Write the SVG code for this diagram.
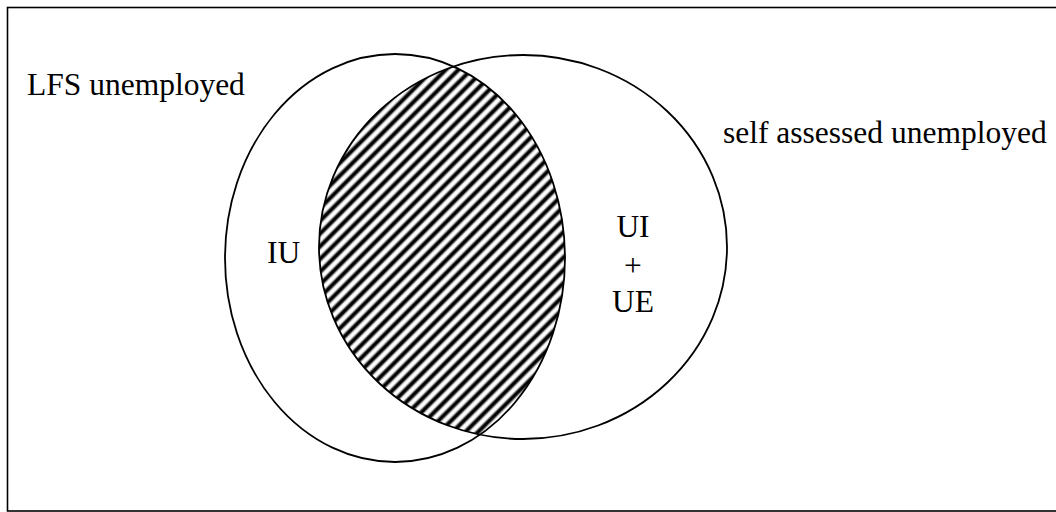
<svg xmlns="http://www.w3.org/2000/svg" width="1056" height="512" viewBox="0 0 1056 512">
<style>
.t{font-family:"Liberation Serif","Times New Roman","DejaVu Serif",serif;font-size:31.5px;fill:#000}
.e{fill:none;stroke:#000;stroke-width:1.8}
</style>
<defs>
<linearGradient id="sg" x1="0" y1="0" x2="1" y2="0">
<stop offset="0" stop-color="#fff"/>
<stop offset="0.14" stop-color="#fff"/>
<stop offset="0.4" stop-color="#000"/>
<stop offset="0.6" stop-color="#000"/>
<stop offset="0.86" stop-color="#fff"/>
<stop offset="1" stop-color="#fff"/>
</linearGradient>
<pattern id="hatch" patternUnits="userSpaceOnUse" width="9" height="20" patternTransform="rotate(45)">
<rect x="0" y="0" width="9" height="20" fill="url(#sg)"/>
</pattern>
<clipPath id="cL"><ellipse cx="395" cy="258" rx="170" ry="204"/></clipPath>
<clipPath id="cR"><ellipse cx="523" cy="247" rx="204" ry="192"/></clipPath>
</defs>
<rect x="0" y="0" width="1056" height="512" fill="#fff"/>
<rect x="7.5" y="7.5" width="1060" height="503.5" fill="none" stroke="#000" stroke-width="1.6"/>
<g id="overlap" clip-path="url(#cL)">
<rect x="300" y="40" width="300" height="440" fill="url(#hatch)" clip-path="url(#cR)"/>
</g>
<g id="lfs">
<ellipse class="e" cx="395" cy="258" rx="170" ry="204"/>
<text class="t" x="27" y="95">LFS unemployed</text>
</g>
<g id="self">
<ellipse class="e" cx="523" cy="247" rx="204" ry="192"/>
<text class="t" x="723" y="143">self assessed unemployed</text>
</g>
<g id="iu"><text class="t" x="267" y="263">IU</text></g>
<g id="uiue">
<text class="t" x="633" y="237" text-anchor="middle">UI</text>
<text class="t" x="633" y="276" text-anchor="middle">+</text>
<text class="t" x="633" y="312" text-anchor="middle">UE</text>
</g>
<g id="connectors"></g>
</svg>
